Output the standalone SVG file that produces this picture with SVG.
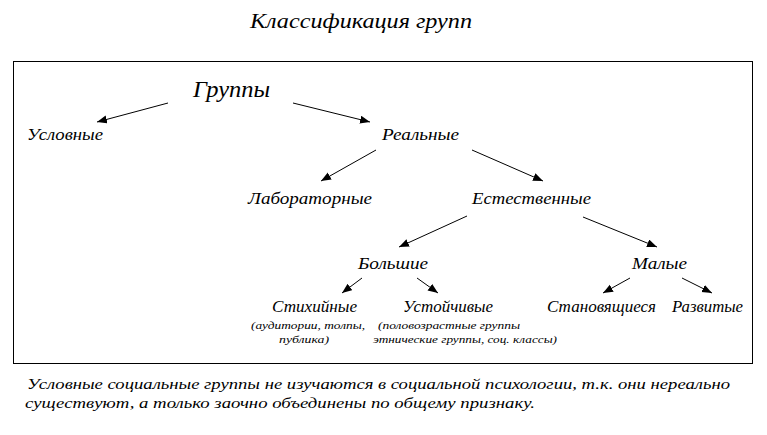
<svg xmlns="http://www.w3.org/2000/svg" width="767" height="435" viewBox="0 0 767 435">
<style>
text{font-family:"Liberation Serif","DejaVu Serif","Noto Serif",serif;font-style:italic;fill:#000}
.t{font-size:20px}
.root{font-size:24px}
.n{font-size:16px}
.s{font-size:11px}
.note{font-size:15px}
.c line{stroke:#000;stroke-width:1;marker-end:url(#ah)}
</style>
<defs>
<marker id="ah" markerUnits="userSpaceOnUse" markerWidth="11" markerHeight="9" refX="10" refY="4" orient="auto" viewBox="0 0 11 9">
<path d="M0,0 L10,4 L0,8 z" fill="#000"/>
</marker>
</defs>
<rect width="767" height="435" fill="#fff"/>
<text id="title" class="t" x="250" y="28" textLength="222" lengthAdjust="spacingAndGlyphs">Классификация групп</text>
<rect id="frame" x="13.5" y="61.5" width="739" height="302" fill="none" stroke="#000" stroke-width="1"/>
<g class="c" id="connectors">
<line x1="168" y1="103" x2="97" y2="122"/>
<line x1="293" y1="103" x2="370" y2="122"/>
<line x1="376" y1="150" x2="321" y2="181"/>
<line x1="472" y1="150" x2="543" y2="181"/>
<line x1="467" y1="216" x2="399" y2="247"/>
<line x1="583" y1="217" x2="657" y2="247"/>
<line x1="362" y1="278" x2="342" y2="293"/>
<line x1="417" y1="278" x2="438" y2="293"/>
<line x1="630" y1="278" x2="603" y2="293"/>
<line x1="682" y1="278" x2="712" y2="293"/>
</g>
<g id="n-gruppy"><text class="root" x="193" y="97" textLength="77" lengthAdjust="spacingAndGlyphs">Группы</text></g>
<g id="n-uslovnye"><text class="n" x="27" y="140" textLength="76" lengthAdjust="spacingAndGlyphs">Условные</text></g>
<g id="n-realnye"><text class="n" x="382" y="140" textLength="77" lengthAdjust="spacingAndGlyphs">Реальные</text></g>
<g id="n-lab"><text class="n" x="248" y="204" textLength="124" lengthAdjust="spacingAndGlyphs">Лабораторные</text></g>
<g id="n-est"><text class="n" x="472" y="204" textLength="119" lengthAdjust="spacingAndGlyphs">Естественные</text></g>
<g id="n-bolshie"><text class="n" x="358" y="269" textLength="70" lengthAdjust="spacingAndGlyphs">Большие</text></g>
<g id="n-malye"><text class="n" x="632" y="269" textLength="55" lengthAdjust="spacingAndGlyphs">Малые</text></g>
<g id="n-stikh">
<text class="n" x="272" y="312" textLength="85" lengthAdjust="spacingAndGlyphs">Стихийные</text>
<text class="s" x="251" y="329" textLength="114" lengthAdjust="spacingAndGlyphs">(аудитории, толпы,</text>
<text class="s" x="279" y="343" textLength="50" lengthAdjust="spacingAndGlyphs">публика)</text>
</g>
<g id="n-ustoich">
<text class="n" x="403" y="312" textLength="90" lengthAdjust="spacingAndGlyphs">Устойчивые</text>
<text class="s" x="378" y="329" textLength="142" lengthAdjust="spacingAndGlyphs">(половозрастные группы</text>
<text class="s" x="373" y="343" textLength="184" lengthAdjust="spacingAndGlyphs">этнические группы, соц. классы)</text>
</g>
<g id="n-stanov"><text class="n" x="547" y="312" textLength="109" lengthAdjust="spacingAndGlyphs">Становящиеся</text></g>
<g id="n-razv"><text class="n" x="672" y="312" textLength="71" lengthAdjust="spacingAndGlyphs">Развитые</text></g>
<text id="note1" class="note" x="27" y="389" textLength="703" lengthAdjust="spacingAndGlyphs">Условные социальные группы не изучаются в социальной психологии, т.к. они нереально</text>
<text id="note2" class="note" x="25" y="408" textLength="510" lengthAdjust="spacingAndGlyphs">существуют, а только заочно объединены по общему признаку.</text>
</svg>
